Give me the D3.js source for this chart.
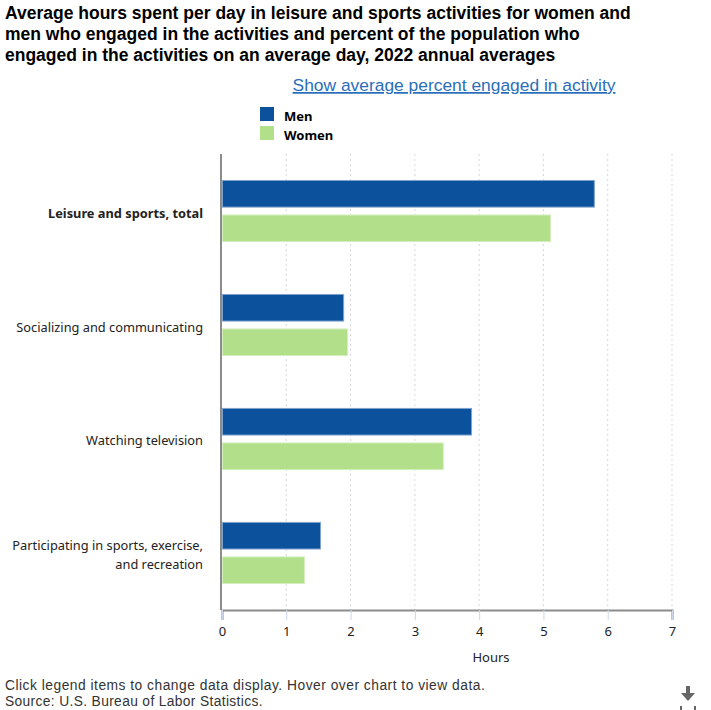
<!DOCTYPE html>
<html><head><meta charset="utf-8">
<script src="https://cdn.jsdelivr.net/npm/d3@7"></script>
<style>body{margin:0;background:#fff;} svg{display:block;}</style>
</head><body>
<svg id="c" width="711" height="710"></svg>
<script>
const categories = ["Leisure and sports, total", "Socializing and communicating", "Watching television", "Participating in sports, exercise, and recreation"];
const seriesNames = ["Men", "Women"];
const menValues = [5.80, 1.90, 3.89, 1.54];
const womenValues = [5.12, 1.96, 3.45, 1.29];
const xTicks = [0, 1, 2, 3, 4, 5, 6, 7];
const colors = ["#0b519b", "#b2df8a"];
const strokeColors = ["#7fa3cf", "#d4eebf"];

(function () {
const svg = d3.select("#c");
const sans = "'Noto Sans', 'Open Sans', sans-serif";

// Title
const titleLines = ["Average hours spent per day in leisure and sports activities for women and",
  "men who engaged in the activities and percent of the population who",
  "engaged in the activities on an average day, 2022 annual averages"];
svg.append("g").selectAll("text").data(titleLines).join("text")
  .attr("x", 5).attr("y", (d, i) => 19 + i * 21)
  .attr("font-family", "'Liberation Sans', Arial, sans-serif").attr("font-weight", "bold")
  .attr("font-size", 17.5).attr("fill", "#000").text(d => d);

svg.append("text").attr("x", 454).attr("y", 91).attr("text-anchor", "middle")
  .attr("font-family", "'Liberation Sans', Arial, sans-serif").attr("font-size", 17.4)
  .attr("fill", "#2a6ebb").attr("text-decoration", "underline")
  .text("Show average percent engaged in activity");

// Legend
const leg = svg.append("g");
seriesNames.forEach((s, i) => {
  leg.append("rect").attr("x", 260).attr("y", 107 + i * 19).attr("width", 14).attr("height", 14).attr("fill", colors[i]);
  leg.append("text").attr("x", 284).attr("y", 121 + i * 19).attr("font-family", sans)
    .attr("font-weight", "bold").attr("font-size", 13).attr("fill", "#000").text(s);
});

// Scales
const pLeft = 222, pRight = 672, pTop = 154, pBottom = 610;
const x = d3.scaleLinear().domain([0, 7]).range([pLeft, pRight]);
const y = d3.scaleBand().domain(categories).range([pTop, pBottom]).paddingInner(0.455).paddingOuter(0.228);
const y1 = d3.scaleBand().domain(seriesNames).range([0, y.bandwidth()]).paddingInner(0.2);

// Grid
svg.append("g").selectAll("line").data(xTicks.slice(1)).join("line")
  .attr("x1", d => x(d)).attr("x2", d => x(d)).attr("y1", pTop).attr("y2", pBottom)
  .attr("stroke", "#d6d6d6").attr("stroke-width", 1).attr("stroke-dasharray", "2,3");

// Bars
const data = categories.map((c, i) => ({c, vals: [menValues[i], womenValues[i]]}));
const g = svg.append("g");
data.forEach(d => {
  d.vals.forEach((v, j) => {
    g.append("rect").attr("x", x(0) + 0.5).attr("y", y(d.c) + y1(seriesNames[j]) + 0.5)
      .attr("width", x(v) - x(0) - 1).attr("height", y1.bandwidth() - 1)
      .attr("fill", colors[j]).attr("stroke", strokeColors[j]).attr("stroke-width", 1);
  });
});

// X axis
const xAxis = d3.axisBottom(x).tickValues(xTicks).tickFormat(d3.format("d")).tickSize(10).tickPadding(7);
const ax = svg.append("g").attr("transform", `translate(0,${pBottom})`).call(xAxis);
ax.select(".domain").attr("stroke", "#8c8c8c").attr("stroke-width", 2);
ax.selectAll(".tick line").attr("stroke", "#ccd6eb");
ax.selectAll(".tick text").attr("font-family", sans).attr("font-size", 13).attr("fill", "#222");
svg.append("text").attr("x", 491).attr("y", 662).attr("text-anchor", "middle")
  .attr("font-family", sans).attr("font-size", 13).attr("fill", "#222").text("Hours");

// Y axis line
svg.append("line").attr("x1", pLeft - 1).attr("x2", pLeft - 1).attr("y1", pTop).attr("y2", pBottom)
  .attr("stroke", "#8c8c8c").attr("stroke-width", 2);

// Category labels
const labelLines = {
  "Leisure and sports, total": ["Leisure and sports, total"],
  "Socializing and communicating": ["Socializing and communicating"],
  "Watching television": ["Watching television"],
  "Participating in sports, exercise, and recreation": ["Participating in sports, exercise,", "and recreation"]
};
categories.forEach((c, i) => {
  const lines = labelLines[c];
  const cy = y(c) + y.bandwidth() / 2 + 2;
  lines.forEach((t, k) => {
    svg.append("text").attr("x", 203).attr("y", cy + (k - (lines.length - 1) / 2) * 19 + 4.5)
      .attr("text-anchor", "end").attr("font-family", sans).attr("font-size", 12.8)
      .attr("font-weight", i === 0 ? "bold" : "normal").attr("fill", "#222").text(t);
  });
});

// Footer
const foot = "'Liberation Sans', Arial, sans-serif";
svg.append("text").attr("x", 5).attr("y", 690).attr("font-family", foot).attr("font-size", 13.8)
  .attr("letter-spacing", 0.5).attr("fill", "#333")
  .text("Click legend items to change data display. Hover over chart to view data.");
svg.append("text").attr("x", 5).attr("y", 706).attr("font-family", foot).attr("font-size", 13.8)
  .attr("letter-spacing", 0.35).attr("fill", "#333")
  .text("Source: U.S. Bureau of Labor Statistics.");

// Download icon
const ic = svg.append("g").attr("fill", "#666");
ic.append("rect").attr("x", 686).attr("y", 686).attr("width", 4).attr("height", 7);
ic.append("path").attr("d", "M681,693 L695,693 L688,701 Z");
ic.append("rect").attr("x", 680).attr("y", 706).attr("width", 2).attr("height", 4);
ic.append("rect").attr("x", 694).attr("y", 706).attr("width", 2).attr("height", 4);
})();
</script>
</body></html>
